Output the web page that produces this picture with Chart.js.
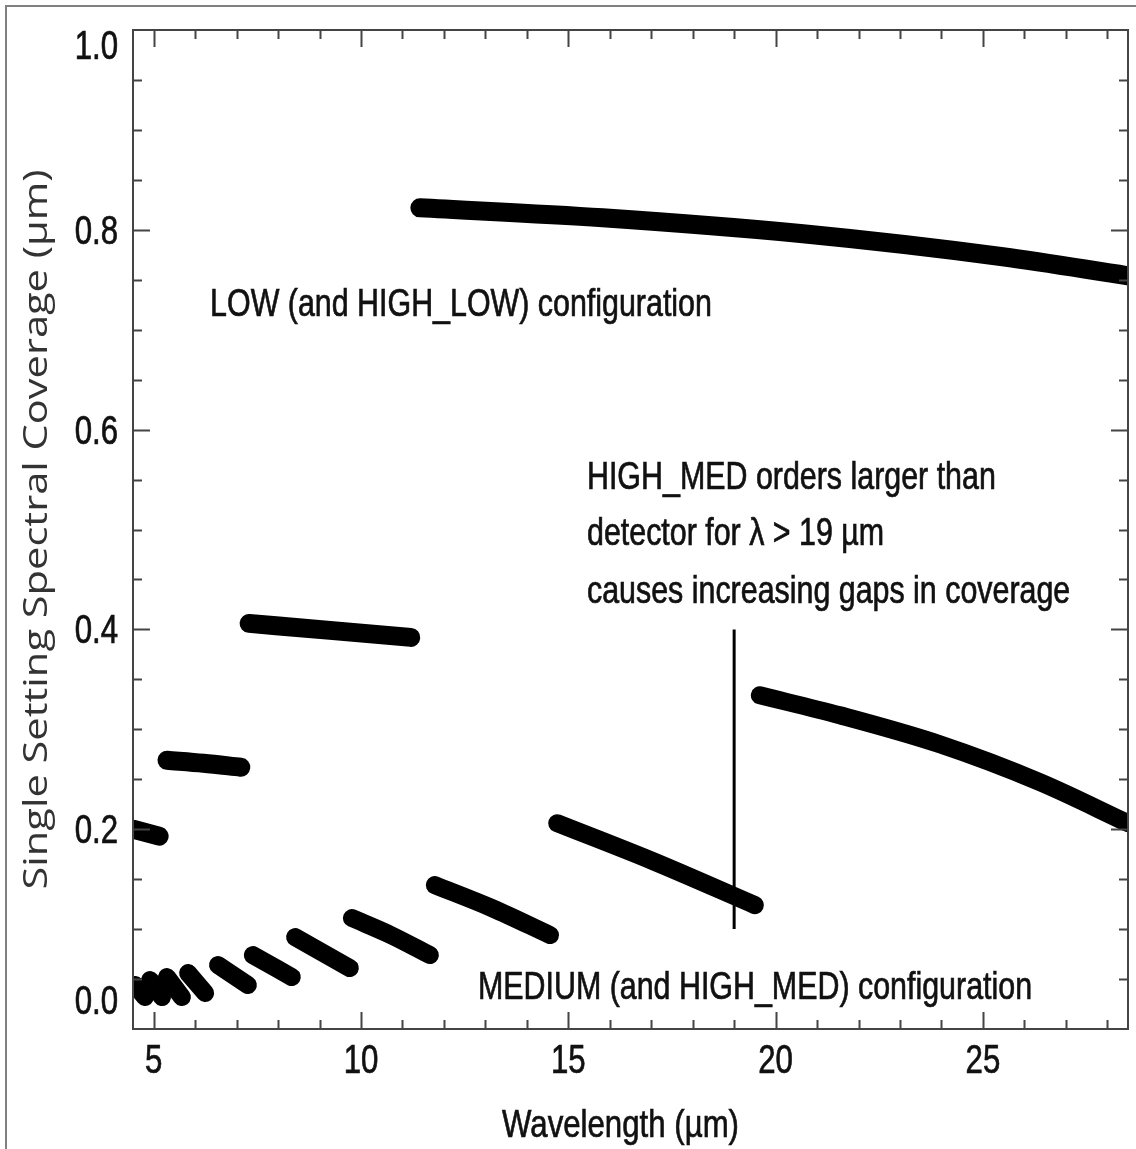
<!DOCTYPE html>
<html>
<head>
<meta charset="utf-8">
<script src="https://cdn.jsdelivr.net/npm/chart.js@4.4.1/dist/chart.umd.min.js"></script>
<style>
  html, body { margin: 0; padding: 0; background: #fff; }
  canvas { display: block; }
</style>
</head>
<body>
<canvas id="chart" width="1136" height="1149"></canvas>
<script>
// LOW (and HIGH_LOW) orders, one sub-array per order
const lowX = [
  [4.5, 5.13],
  [5.32, 6.2, 7.10],
  [7.30, 9.25, 11.20],
  [11.42, 15.83, 20.66, 25.48, 28.5]
];
const lowY = [
  [0.200, 0.193],
  [0.269, 0.266, 0.262],
  [0.406, 0.399, 0.392],
  [0.822, 0.812, 0.796, 0.773, 0.754]
];

// MEDIUM (and HIGH_MED) orders
const medX = [
  [4.55, 4.79],
  [4.91, 5.20],
  [5.32, 5.68],
  [5.83, 6.24],
  [6.55, 7.27],
  [7.39, 8.33],
  [8.41, 9.73],
  [9.78, 10.72, 11.66],
  [11.78, 13.16, 14.56],
  [14.73, 17.04, 19.50],
  [19.62, 21.55, 23.96, 26.38, 28.5]
];
const medY = [
  [0.044, 0.032],
  [0.049, 0.032],
  [0.052, 0.032],
  [0.056, 0.036],
  [0.064, 0.044],
  [0.074, 0.052],
  [0.092, 0.061],
  [0.111, 0.094, 0.074],
  [0.144, 0.121, 0.094],
  [0.206, 0.168, 0.124],
  [0.334, 0.314, 0.285, 0.247, 0.206]
];

// vertical marker at 19 um
const markX = [19.0, 19.0];
const markY = [0.10, 0.40];

const xTicks = [5, 10, 15, 20, 25];
const xTickLabels = ["5", "10", "15", "20", "25"];
const yTicks = [0.0, 0.2, 0.4, 0.6, 0.8, 1.0];
const yTickLabels = ["0.0", "0.2", "0.4", "0.6", "0.8", "1.0"];

const notes = [
  { text: "LOW (and HIGH_LOW) configuration", x: 6.36, y: 0.714 },
  { text: "HIGH_MED orders larger than", x: 15.45, y: 0.541 },
  { text: "detector for \u03bb > 19 \u00b5m", x: 15.45, y: 0.484 },
  { text: "causes increasing gaps in coverage", x: 15.45, y: 0.426 },
  { text: "MEDIUM (and HIGH_MED) configuration", x: 12.82, y: 0.030 }
];

const FONT = '"Liberation Sans", Arial, sans-serif';

function squeezedText(ctx, text, x, y, size, sx, align) {
  ctx.save();
  ctx.font = size + "px " + FONT;
  ctx.textBaseline = "alphabetic";
  ctx.textAlign = align || "left";
  ctx.translate(x, y);
  ctx.scale(sx, 1);
  ctx.lineWidth = 0.7;
  ctx.strokeStyle = ctx.fillStyle;
  ctx.fillText(text, 0, 0);
  ctx.strokeText(text, 0, 0);
  ctx.restore();
}

const segment = (xs, ys, width, cap) => ({
  data: xs.map((x, i) => ({ x: x, y: ys[i] })),
  showLine: true,
  borderColor: "#000",
  backgroundColor: "#000",
  borderWidth: width,
  borderCapStyle: cap,
  borderJoinStyle: "round",
  pointRadius: 0,
  cubicInterpolationMode: "monotone",
  clip: 0
});

const datasets = [];
lowX.forEach((xs, i) => datasets.push(segment(xs, lowY[i], 19, "round")));
medX.forEach((xs, i) => datasets.push(segment(xs, medY[i], 18, "round")));
datasets.push(segment(markX, markY, 3, "butt"));

const decorations = {
  id: "decorations",
  beforeDraw(chart) {
    const ctx = chart.ctx;
    ctx.save();
    ctx.fillStyle = "#fff";
    ctx.fillRect(0, 0, chart.width, chart.height);
    // outer frame of the figure
    ctx.fillStyle = "#808080";
    ctx.fillRect(5, 5, chart.width - 5, 2);
    ctx.fillRect(5, 5, 2, chart.height - 5);
    ctx.restore();
  },
  afterDraw(chart) {
    const ctx = chart.ctx;
    const a = chart.chartArea;
    const xs = chart.scales.x;
    const ys = chart.scales.y;
    ctx.save();

    // axis box
    ctx.strokeStyle = "#444";
    ctx.lineWidth = 2;
    ctx.strokeRect(a.left, a.top, a.right - a.left, a.bottom - a.top);

    // inward ticks
    ctx.beginPath();
    for (let v = 5; v <= 28; v++) {
      const px = Math.round(xs.getPixelForValue(v)) + 0.5;
      const len = v % 5 === 0 ? 17 : 9;
      ctx.moveTo(px, a.bottom); ctx.lineTo(px, a.bottom - len);
      ctx.moveTo(px, a.top); ctx.lineTo(px, a.top + len);
    }
    for (let k = 1; k < 20; k++) {
      const py = Math.round(ys.getPixelForValue(k * 0.05)) + 0.5;
      const len = k % 4 === 0 ? 17 : 9;
      ctx.moveTo(a.left, py); ctx.lineTo(a.left + len, py);
      ctx.moveTo(a.right, py); ctx.lineTo(a.right - len, py);
    }
    ctx.stroke();

    // tick labels
    ctx.fillStyle = "#111";
    xTicks.forEach((v, i) => {
      squeezedText(ctx, xTickLabels[i], xs.getPixelForValue(v), a.bottom + 44, 40, 0.78, "center");
    });
    yTicks.forEach((v, i) => {
      let py = ys.getPixelForValue(v) + 14;
      if (i === 0) py -= 29;
      if (i === yTicks.length - 1) py += 15;
      squeezedText(ctx, yTickLabels[i], a.left - 15, py, 40, 0.78, "right");
    });

    // annotations
    notes.forEach(n => {
      squeezedText(ctx, n.text, xs.getPixelForValue(n.x), ys.getPixelForValue(n.y), 38, 0.8, "left");
    });

    // x title
    squeezedText(ctx, "Wavelength (\u00b5m)", (a.left + a.right) / 2 - 10, a.bottom + 108, 39, 0.8, "center");

    // y title, different face, fitted to its span
    const yTitle = "Single Setting Spectral Coverage (\u00b5m)";
    ctx.font = '33px "Open Sans", "DejaVu Sans", sans-serif';
    const w = ctx.measureText(yTitle).width;
    ctx.translate(38, (a.top + a.bottom) / 2);
    ctx.rotate(-Math.PI / 2);
    ctx.scale(720 / w, 1);
    ctx.fillStyle = "#333";
    ctx.textAlign = "center";
    ctx.textBaseline = "middle";
    ctx.fillText(yTitle, 0, 0);
    ctx.restore();
  }
};

new Chart(document.getElementById("chart"), {
  type: "scatter",
  data: { datasets: datasets },
  options: {
    responsive: false,
    animation: false,
    layout: { padding: { left: 133, top: 30, right: 8, bottom: 120 } },
    plugins: {
      legend: { display: false },
      tooltip: { enabled: false }
    },
    scales: {
      x: {
        type: "linear",
        min: 4.5,
        max: 28.5,
        ticks: { display: false },
        grid: { display: false, drawTicks: false },
        border: { display: false }
      },
      y: {
        type: "linear",
        min: 0,
        max: 1,
        ticks: { display: false },
        grid: { display: false, drawTicks: false },
        border: { display: false }
      }
    }
  },
  plugins: [decorations]
});
</script>
</body>
</html>
